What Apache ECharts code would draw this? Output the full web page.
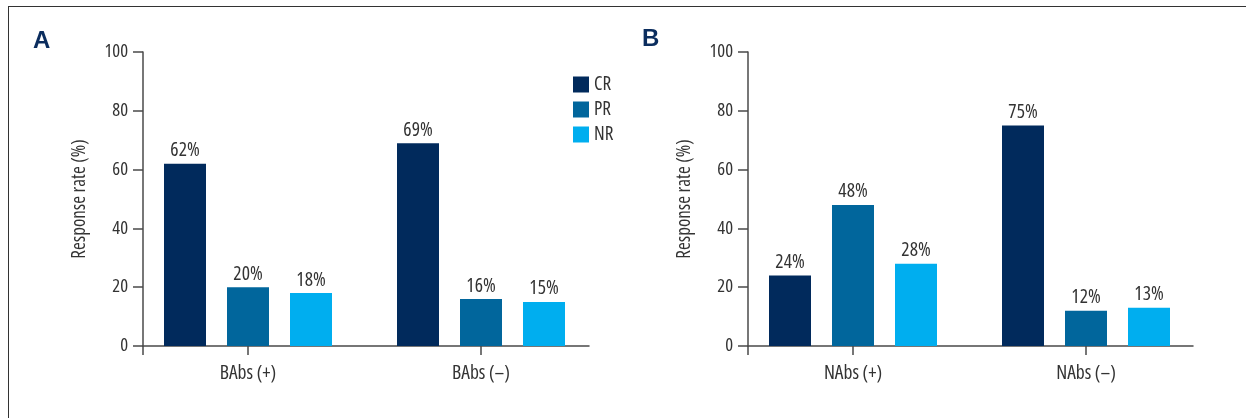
<!DOCTYPE html>
<html>
<head>
<meta charset="utf-8">
<script src="https://cdn.jsdelivr.net/npm/echarts@6/dist/echarts.min.js"></script>
<style>
  html, body { margin: 0; padding: 0; background: #fff; }
  #wrap { position: relative; width: 1246px; height: 418px; overflow: hidden; }
  #chart { width: 1246px; height: 418px; }
  #frame { position: absolute; left: 8px; top: 6px; right: -2px; bottom: -2px;
           border-left: 1.5px solid #333; border-top: 1.5px solid #333; pointer-events: none; }
</style>
</head>
<body>
<div id="wrap">
  <div id="chart"></div>
  <div id="frame"></div>
</div>
<script>
// Response rates by antibody status
const categoriesA = ['BAbs (+)', 'BAbs (–)'];
const categoriesB = ['NAbs (+)', 'NAbs (–)'];
const seriesNames = ['CR', 'PR', 'NR'];
const crA = [62, 69];
const prA = [20, 16];
const nrA = [18, 15];
const crB = [24, 75];
const prB = [48, 12];
const nrB = [28, 13];
const yTicks = [0, 20, 40, 60, 80, 100];

const colors = ['#012a5c', '#01669c', '#00aeef'];
const FONT = "'Open Sans', 'DejaVu Sans', sans-serif";
const STRETCH = 'condensed';
const AXIS = '#4a4a4a';
const TEXT = '#333333';

const TOP = 52, HEIGHT = 294;

function txt(size) {
  return { fontFamily: FONT, fontStyle: STRETCH, fontSize: size, color: TEXT };
}

// grids: frame grids carry the drawn axes, bar grids place the grouped bars
const grids = [
  { left: 143, top: TOP, width: 446, height: HEIGHT },
  { left: 131.5, top: TOP, width: 466, height: HEIGHT },
  { left: 748, top: TOP, width: 445, height: HEIGHT },
  { left: 736.5, top: TOP, width: 466, height: HEIGHT }
];

function frameX(gridIndex) {
  return {
    type: 'category', gridIndex, data: ['', ''], boundaryGap: false,
    axisLine: { show: true, lineStyle: { color: AXIS, width: 1.5 } },
    axisTick: { show: true, length: 9, interval: (i) => i === 0, lineStyle: { color: AXIS, width: 1.5 } },
    axisLabel: { show: false }, splitLine: { show: false }
  };
}
function frameY(gridIndex) {
  return {
    type: 'value', gridIndex, min: yTicks[0], max: yTicks[yTicks.length - 1], interval: yTicks[1] - yTicks[0],
    name: 'Response rate (%)', nameLocation: 'middle', nameGap: 54,
    nameTextStyle: txt(19),
    axisLine: { show: true, lineStyle: { color: AXIS, width: 1.5 } },
    axisTick: { show: true, length: 10, lineStyle: { color: AXIS, width: 1.5 } },
    axisLabel: Object.assign(txt(18.5), { margin: 15 }),
    splitLine: { show: false }
  };
}
function barX(gridIndex, cats) {
  return {
    type: 'category', gridIndex, data: cats,
    axisLine: { show: false },
    axisTick: { show: true, alignWithLabel: true, length: 9, lineStyle: { color: AXIS, width: 1.5 } },
    axisLabel: Object.assign(txt(19.5), { margin: 17 }),
    splitLine: { show: false }
  };
}
function barY(gridIndex) {
  return {
    type: 'value', gridIndex, min: yTicks[0], max: yTicks[yTicks.length - 1],
    show: false, splitLine: { show: false }
  };
}
function bar(name, data, axisIndex, colorIdx) {
  return {
    type: 'bar', name, data, xAxisIndex: axisIndex, yAxisIndex: axisIndex,
    barWidth: 42, barGap: '50%',
    itemStyle: { color: colors[colorIdx] },
    label: Object.assign({ show: true, position: 'top', distance: 3, formatter: '{c}%' }, txt(19.5)),
    animation: false
  };
}

const letterStyle = { fontFamily: "'Liberation Sans', Arial, sans-serif", fontSize: 24, fontWeight: 'bold', color: '#0b2d5e' };

const chart = echarts.init(document.getElementById('chart'), null, { renderer: 'canvas' });
chart.setOption({
  animation: false,
  title: [
    { text: 'A', left: 33, top: 29, padding: 0, textStyle: letterStyle },
    { text: 'B', left: 642, top: 27, padding: 0, textStyle: letterStyle }
  ],
  legend: {
    data: seriesNames, orient: 'vertical', left: 573, top: 75, padding: 0,
    itemWidth: 16, itemHeight: 16, itemGap: 6, icon: 'rect',
    textStyle: txt(19)
  },
  grid: grids,
  xAxis: [frameX(0), barX(1, categoriesA), frameX(2), barX(3, categoriesB)],
  yAxis: [frameY(0), barY(1), frameY(2), barY(3)],
  series: [
    bar('CR', crA, 1, 0), bar('PR', prA, 1, 1), bar('NR', nrA, 1, 2),
    bar('CR', crB, 3, 0), bar('PR', prB, 3, 1), bar('NR', nrB, 3, 2)
  ]
});
</script>
</body>
</html>
